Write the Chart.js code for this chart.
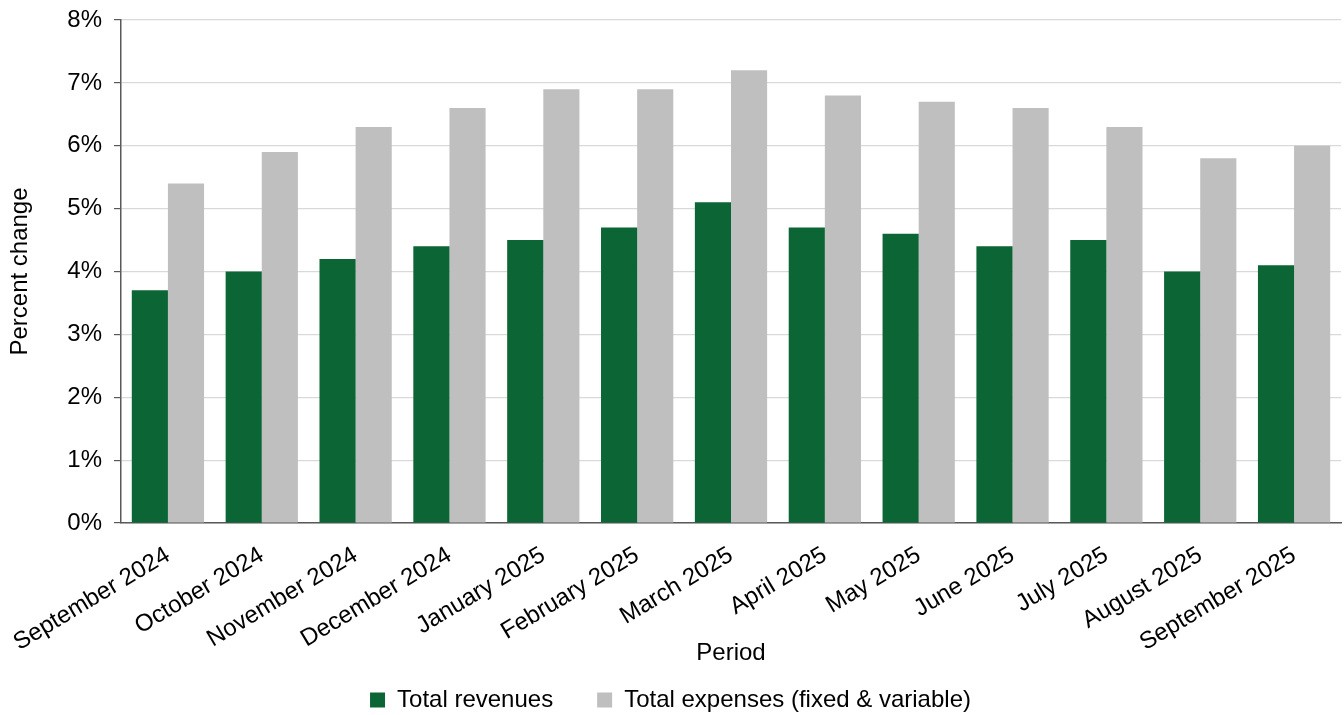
<!DOCTYPE html>
<html>
<head>
<meta charset="utf-8">
<script src="https://cdn.jsdelivr.net/npm/chart.js@4"></script>
<style>
    html, body { margin: 0; padding: 0; background: #fff; }
    #wrap { position: relative; width: 1344px; height: 715px; }
</style>
</head>
<body>
<div id="wrap"><canvas id="chart"></canvas></div>
<script>
// monthly year-over-year change, percent
const periods = ['September 2024', 'October 2024', 'November 2024', 'December 2024',
    'January 2025', 'February 2025', 'March 2025', 'April 2025', 'May 2025',
    'June 2025', 'July 2025', 'August 2025', 'September 2025'];
const revenues = [3.7, 4.0, 4.2, 4.4, 4.5, 4.7, 5.1, 4.7, 4.6, 4.4, 4.5, 4.0, 4.1];
const expenses = [5.4, 5.9, 6.3, 6.6, 6.9, 6.9, 7.2, 6.8, 6.7, 6.6, 6.3, 5.8, 6.0];
const yTicks = [0, 1, 2, 3, 4, 5, 6, 7, 8];

const FONT = '"Liberation Sans", Arial, sans-serif';
Chart.defaults.font.family = FONT;
Chart.defaults.color = '#000';

const LEGEND_PAD = 44;

// the legend keeps wide gaps between items, so it only reserves a short
// strip and is then moved down to sit near the bottom edge
const legendShift = {
    id: 'legendShift',
    afterLayout(chart) {
        const lg = chart.legend;
        lg.top = 700 - LEGEND_PAD - 12;
        lg.bottom = chart.height;
        lg.height = lg.bottom - lg.top;
    }
};

new Chart(document.getElementById('chart'), {
    type: 'bar',
    data: {
        labels: periods,
        datasets: [
            { label: 'Total revenues', data: revenues, backgroundColor: '#0b6535' },
            { label: 'Total expenses (fixed & variable)', data: expenses, backgroundColor: '#bfbfbf' }
        ]
    },
    plugins: [legendShift],
    options: {
        responsive: true,
        maintainAspectRatio: false,
        animation: false,
        layout: { padding: { top: 20, right: 3, left: 0, bottom: 0 } },
        datasets: { bar: { categoryPercentage: 0.77, barPercentage: 1.0 } },
        plugins: {
            tooltip: { enabled: false },
            legend: {
                position: 'bottom',
                maxHeight: 30,
                labels: {
                    font: { size: 24 },
                    boxWidth: 15,
                    boxHeight: 15,
                    padding: LEGEND_PAD
                }
            }
        },
        scales: {
            x: {
                grid: { display: false },
                border: { display: true, color: '#595959', width: 1.5 },
                ticks: { font: { size: 24 }, minRotation: 31, maxRotation: 31, padding: 10, autoSkip: false },
                title: { display: true, text: 'Period', font: { size: 24 }, padding: { top: 0, bottom: 17 } },
                afterFit: (s) => { s.height = 162; }
            },
            y: {
                min: 0,
                max: 8,
                afterBuildTicks: (s) => { s.ticks = yTicks.map(v => ({ value: v })); },
                ticks: { font: { size: 24 }, padding: 12, callback: (v) => v + '%' },
                grid: { color: '#d9d9d9', lineWidth: 1.2, tickLength: 7, tickColor: '#595959' },
                border: { display: true, color: '#595959', width: 1.5 },
                title: { display: true, text: 'Percent change', font: { size: 24 }, padding: { top: 6, bottom: 0 } },
                afterFit: (s) => {
                    s.width = 121;
                    s.paddingTop = 0;
                    s.paddingBottom = 0;
                }
            }
        }
    }
});
</script>
</body>
</html>
